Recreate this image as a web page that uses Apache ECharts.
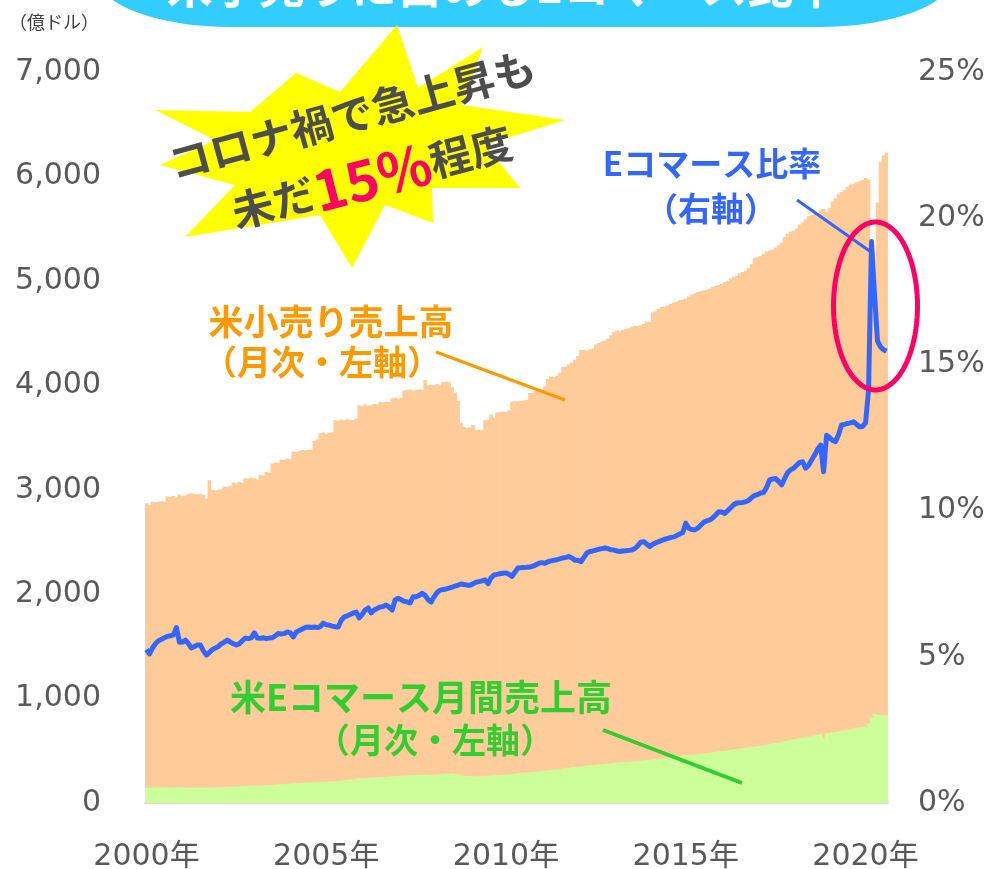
<!DOCTYPE html>
<html>
<head>
<meta charset="utf-8">
<script src="https://cdn.jsdelivr.net/npm/echarts@6/dist/echarts.min.js"></script>
<style>
  html, body { margin: 0; padding: 0; background: #fff; }
  #main { width: 994px; height: 869px; }
</style>
</head>
<body>
<div id="main"></div>
<script>
// 月次データ 2000年1月〜2020年8月（億ドル / %）
var retailSales = [
  2870, 2855, 2885, 2880, 2885, 2890, 2885, 2935, 2930, 2940, 2925, 2955, // 2000
  2940, 2945, 2960, 2965, 2960, 2955, 2960, 2950, 2915, 3090, 3000, 2995, // 2001
  3000, 3005, 3030, 3025, 3035, 3070, 3060, 3075, 3065, 3110, 3105, 3115, // 2002
  3110, 3100, 3140, 3135, 3170, 3165, 3250, 3260, 3255, 3290, 3285, 3300, // 2003
  3295, 3365, 3360, 3370, 3380, 3375, 3385, 3380, 3470, 3480, 3540, 3545, // 2004
  3535, 3545, 3550, 3665, 3660, 3670, 3665, 3675, 3670, 3668, 3680, 3810, // 2005
  3800, 3815, 3805, 3810, 3820, 3815, 3840, 3835, 3845, 3840, 3875, 3880, // 2006
  3870, 3880, 3950, 3955, 3960, 3950, 3955, 3960, 3955, 4050, 4000, 4005, // 2007
  4000, 4010, 4000, 4030, 4035, 4030, 3980, 3930, 3850, 3640, 3600, 3590, // 2008
  3595, 3620, 3570, 3575, 3570, 3665, 3670, 3720, 3690, 3740, 3745, 3750, // 2009
  3745, 3760, 3840, 3850, 3845, 3850, 3855, 3860, 3926, 3930, 3945, 3950, // 2010
  3960, 3990, 4060, 4085, 4080, 4090, 4120, 4175, 4180, 4200, 4215, 4245, // 2011
  4280, 4335, 4340, 4330, 4345, 4350, 4390, 4405, 4420, 4430, 4445, 4480, // 2012
  4510, 4525, 4515, 4530, 4540, 4545, 4560, 4570, 4565, 4575, 4590, 4610, // 2013
  4605, 4700, 4710, 4730, 4750, 4755, 4765, 4780, 4790, 4800, 4815, 4820, // 2014
  4830, 4850, 4870, 4880, 4893, 4900, 4910, 4915, 4925, 4941, 4950, 4960, // 2015
  4970, 4990, 5000, 5020, 5035, 5050, 5070, 5085, 5100, 5120, 5160, 5220, // 2016
  5225, 5240, 5260, 5280, 5290, 5300, 5320, 5340, 5365, 5420, 5450, 5470, // 2017
  5480, 5500, 5540, 5560, 5590, 5620, 5630, 5640, 5650, 5680, 5690, 5660, // 2018
  5700, 5760, 5790, 5830, 5850, 5870, 5900, 5920, 5930, 5945, 5955, 5965, // 2019
  5985, 5970, 5300, 4700, 5750, 6140, 6200, 6230                          // 2020
];

var ecommerceSales = [
  145, 146, 147, 147, 148, 148, 149, 149, 150, 151, 152, 150, // 2000
  148, 147, 146, 145, 146, 147, 147, 146, 145, 146, 148, 149, // 2001
  150, 152, 153, 155, 156, 157, 158, 160, 161, 163, 164, 165, // 2002
  166, 167, 168, 170, 171, 172, 174, 176, 178, 179, 180, 182, // 2003
  184, 186, 188, 190, 192, 194, 195, 196, 198, 199, 200, 203, // 2004
  204, 205, 206, 208, 212, 215, 218, 222, 226, 228, 232, 235, // 2005
  236, 238, 240, 241, 243, 244, 246, 248, 250, 252, 254, 256, // 2006
  258, 260, 262, 263, 265, 266, 268, 270, 271, 272, 270, 268, // 2007
  270, 272, 273, 275, 276, 278, 280, 278, 275, 270, 262, 258, // 2008
  256, 255, 254, 255, 256, 258, 260, 262, 264, 266, 268, 270, // 2009
  272, 274, 276, 280, 283, 285, 287, 290, 292, 295, 298, 300, // 2010
  305, 308, 312, 316, 320, 323, 326, 330, 333, 336, 340, 342, // 2011
  345, 348, 352, 356, 360, 363, 366, 370, 372, 375, 378, 380, // 2012
  384, 386, 388, 390, 392, 394, 396, 398, 400, 404, 408, 410, // 2013
  412, 416, 420, 424, 428, 432, 434, 438, 442, 446, 450, 454, // 2014
  456, 458, 460, 462, 466, 470, 474, 478, 482, 486, 490, 494, // 2015
  498, 500, 504, 508, 512, 516, 520, 524, 528, 532, 536, 540, // 2016
  544, 548, 552, 558, 564, 570, 574, 578, 582, 590, 598, 604, // 2017
  608, 614, 620, 624, 628, 634, 640, 646, 652, 660, 620, 668, // 2018
  672, 676, 680, 686, 692, 696, 700, 706, 712, 718, 722, 726, // 2019
  730, 760, 820, 850, 845, 840, 838, 842                      // 2020
];

var ecommerceShare = [
  5.25, 5.1, 5.3, 5.45, 5.55, 5.6, 5.65, 5.7, 5.72, 5.75, 6.0, 5.5,          // 2000
  5.5, 5.57, 5.45, 5.3, 5.35, 5.4, 5.4, 5.2, 5.06, 5.15, 5.25, 5.3,          // 2001
  5.35, 5.45, 5.5, 5.57, 5.5, 5.45, 5.4, 5.45, 5.55, 5.64, 5.62, 5.65,       // 2002
  5.82, 5.64, 5.63, 5.65, 5.62, 5.64, 5.65, 5.72, 5.8, 5.78, 5.8, 5.85,      // 2003
  5.82, 5.68, 5.85, 5.9, 5.95, 6.0, 6.02, 6.0, 6.02, 6.0, 6.03, 6.15,        // 2004
  6.1, 6.08, 6.05, 6.03, 6.02, 6.25, 6.36, 6.4, 6.45, 6.5, 6.53, 6.33,       // 2005
  6.45, 6.6, 6.67, 6.5, 6.6, 6.65, 6.7, 6.72, 6.77, 6.7, 6.6, 6.95,          // 2006
  7.0, 6.95, 6.9, 6.88, 6.84, 7.05, 7.05, 7.1, 7.17, 7.1, 6.95, 6.87,        // 2007
  7.05, 7.2, 7.28, 7.3, 7.32, 7.35, 7.38, 7.42, 7.45, 7.49, 7.47, 7.45,      // 2008
  7.45, 7.5, 7.55, 7.57, 7.6, 7.63, 7.5, 7.7, 7.8, 7.82, 7.84, 7.86,         // 2009
  7.87, 7.82, 7.75, 7.9, 8.04, 8.05, 8.05, 8.06, 8.07, 8.1, 8.15, 8.2,       // 2010
  8.22, 8.2, 8.25, 8.28, 8.3, 8.32, 8.35, 8.38, 8.4, 8.43, 8.38, 8.3,        // 2011
  8.3, 8.25, 8.4, 8.55, 8.6, 8.62, 8.65, 8.68, 8.7, 8.72, 8.7, 8.66,         // 2012
  8.65, 8.62, 8.6, 8.62, 8.63, 8.64, 8.65, 8.7, 8.8, 8.92, 8.94, 8.85,       // 2013
  8.77, 8.85, 8.9, 8.94, 8.98, 9.02, 9.05, 9.08, 9.1, 9.15, 9.2, 9.25,       // 2014
  9.57, 9.4, 9.35, 9.34, 9.4, 9.5, 9.6, 9.65, 9.68, 9.75, 9.85, 9.96,        // 2015
  9.95, 9.9, 10.0, 10.1, 10.2, 10.26, 10.27, 10.28, 10.3, 10.35, 10.45, 10.52, // 2016
  10.55, 10.6, 10.62, 10.8, 11.05, 11.08, 11.1, 11.0, 10.88, 11.1, 11.3, 11.39, // 2017
  11.45, 11.55, 11.65, 11.67, 11.45, 11.55, 11.73, 11.9, 12.1, 12.24, 11.33, 12.58, // 2018
  12.5, 12.4, 12.36, 12.6, 12.93, 12.95, 12.98, 13.0, 13.04, 12.95, 12.87, 12.88, // 2019
  13.0, 14.1, 19.2, 17.4, 15.8, 15.6, 15.5, 15.45                            // 2020
];

var startYear = 2000;
var yearLabelStep = 60; // 5年ごとに目盛ラベル
var leftTicks = [0, 7000, 1000];
var rightTicks = [0, 25, 5];

var months = [];
for (var i = 0; i < retailSales.length; i++) {
  months.push((startYear + Math.floor(i / 12)) + '/' + (i % 12 + 1));
}

var FONT = "'Noto Sans CJK JP', 'Noto Sans', sans-serif";
var AXIS_FONT = "'DejaVu Sans', 'Noto Sans CJK JP', sans-serif";

// 吹き出し（星形）の頂点
var burst = [[397,25],[418,88],[483,47],[462,105],[565,120],[485,145],[520,188],[432,188],[433,223],
  [385,205],[352,268],[320,215],[185,237],[235,185],[160,165],[215,140],[155,110],[250,112],[296,73],[340,92]];

// 赤丸
var ring = [];
for (var k = 0; k <= 90; k++) {
  var t = k / 90 * Math.PI * 2;
  ring.push([875.5 + 42 * Math.cos(t), 306 + 84 * Math.sin(t)]);
}

function label(x, y, text, color, size) {
  return {
    type: 'text', x: x, y: y, z: 100,
    style: {
      text: text, fill: color, fontSize: size, fontWeight: 'bold', fontFamily: FONT,
      align: 'center', verticalAlign: 'middle', textAlign: 'center', textVerticalAlign: 'middle'
    }
  };
}

var chart = echarts.init(document.getElementById('main'));
var option = {
  animation: false,
  grid: { left: 145, right: 106, top: 72, bottom: 66, outerBoundsMode: 'none' },
  xAxis: {
    type: 'category',
    data: months,
    axisTick: { show: false },
    axisLine: { lineStyle: { color: '#D9D9D9', width: 2 } },
    axisLabel: {
      interval: yearLabelStep - 1,
      margin: 39,
      fontSize: 30,
      color: '#595959',
      fontFamily: AXIS_FONT,
      formatter: function (v) { return v.split('/')[0] + '年'; }
    }
  },
  yAxis: [
    {
      type: 'value', min: leftTicks[0], max: leftTicks[1], interval: leftTicks[2],
      splitLine: { show: false },
      axisLabel: {
        margin: 44, fontSize: 30, color: '#595959', fontFamily: AXIS_FONT,
        formatter: function (v) { return v.toLocaleString('en-US'); }
      }
    },
    {
      type: 'value', min: rightTicks[0], max: rightTicks[1], interval: rightTicks[2],
      splitLine: { show: false },
      axisLabel: { margin: 30, fontSize: 30, color: '#595959', fontFamily: AXIS_FONT, formatter: '{value}%' }
    }
  ],
  series: [
    {
      name: '米小売り売上高', type: 'bar', data: retailSales,
      itemStyle: { color: '#FFCC99' }, barWidth: 3.6, barGap: '-100%'
    },
    {
      name: '米Eコマース月間売上高', type: 'bar', data: ecommerceSales,
      itemStyle: { color: '#CCFF99' }, barWidth: 3.6, barGap: '-100%'
    },
    {
      name: 'Eコマース比率', type: 'line', yAxisIndex: 1, data: ecommerceShare,
      showSymbol: false, z: 5,
      lineStyle: { color: '#3366FF', width: 5, join: 'round' }
    }
  ],
  graphic: [
    // タイトル帯
    {
      type: 'rect', x: 525, y: 0, scaleX: 2.67, z: 90,
      shape: { x: -160, y: -273, width: 320, height: 300, r: [0, 0, 50, 50] },
      style: { fill: '#33CCFF' }
    },
    label(503, -14, '米小売りに占めるEコマース比率', '#FFFFFF', 46),
    { type: 'text', x: 9, y: 22, z: 100,
      style: { text: '（億ドル）', fill: '#404040', fontSize: 18, fontFamily: FONT, verticalAlign: 'middle', textVerticalAlign: 'middle' } },
    // 星形
    { type: 'polygon', z: 95, shape: { points: burst }, style: { fill: '#FFFF00' } },
    {
      type: 'text', x: 352, y: 115, rotation: 15.3 * Math.PI / 180, z: 100,
      style: { text: 'コロナ禍で急上昇も', fill: '#4D4D4D', fontSize: 42, fontWeight: 'bold', fontFamily: FONT,
        align: 'center', verticalAlign: 'middle', textAlign: 'center', textVerticalAlign: 'middle' }
    },
    {
      type: 'text', x: 372, y: 177, rotation: 14.5 * Math.PI / 180, z: 100,
      style: {
        text: '{a|未だ}{b|15%}{a|程度}',
        align: 'center', verticalAlign: 'middle', textAlign: 'center', textVerticalAlign: 'middle',
        rich: {
          a: { fill: '#4D4D4D', fontSize: 42, fontWeight: 'bold', fontFamily: FONT },
          b: { fill: '#FF0066', fontSize: 56, fontWeight: 'bold', fontFamily: FONT }
        }
      }
    },
    // 系列ラベル
    label(712, 163, 'Eコマース比率', '#3366FF', 33),
    label(711, 208, '（右軸）', '#3366FF', 33),
    { type: 'line', z: 100, shape: { x1: 797, y1: 200, x2: 871, y2: 252 }, style: { stroke: '#3366FF', lineWidth: 3 } },
    label(331, 322, '米小売り売上高', '#FF9900', 35),
    label(322, 362, '（月次・左軸）', '#FF9900', 34),
    { type: 'line', z: 100, shape: { x1: 436, y1: 352, x2: 565, y2: 400 }, style: { stroke: '#FF9900', lineWidth: 3 } },
    label(421, 697, '米Eコマース月間売上高', '#33CC33', 36),
    label(435, 740, '（月次・左軸）', '#33CC33', 34),
    { type: 'line', z: 100, shape: { x1: 603, y1: 730, x2: 742, y2: 783 }, style: { stroke: '#33CC33', lineWidth: 4 } },
    // 赤丸
    { type: 'polyline', z: 100, shape: { points: ring }, style: { stroke: '#FF0066', lineWidth: 5, fill: null } }
  ]
};
chart.setOption(option);
</script>
</body>
</html>
